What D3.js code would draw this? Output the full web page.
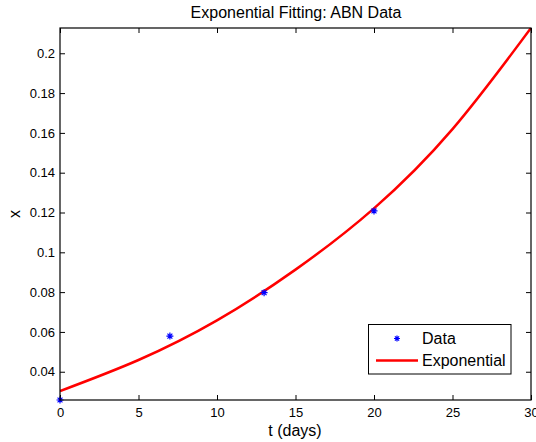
<!DOCTYPE html>
<html>
<head>
<meta charset="utf-8">
<script src="https://cdn.jsdelivr.net/npm/d3@7"></script>
<style>
body { margin: 0; background: #fff; }
text { font-family: "Liberation Sans", Arial, sans-serif; fill: #000; }
</style>
</head>
<body>
<svg id="chart"></svg>
<script>
// Measured data points
var dataT = [0, 7, 13, 20];
var dataX = [0.0258, 0.0579, 0.0797, 0.1208];

// Fitted curve
var fitT = [0, 5, 10, 15, 20, 25, 30];
var fitX = [0.0303, 0.0459, 0.0658, 0.0913, 0.1221, 0.1619, 0.2127];

var xTicks = [0, 5, 10, 15, 20, 25, 30];
var yTicks = [0.04, 0.06, 0.08, 0.1, 0.12, 0.14, 0.16, 0.18, 0.2];

var W = 536, H = 442;
var m = {left: 60, right: 5, top: 28, bottom: 42};

var svg = d3.select('#chart').attr('width', W).attr('height', H);

var x = d3.scaleLinear().domain([0, 30]).range([m.left, W - m.right]);
var y = d3.scaleLinear().domain([0.0258, 0.2127]).range([H - m.bottom, m.top]);

// axes, ticks pointing inward like matlab
function styleAxis(g){
    g.select('.domain').remove();
    g.selectAll('line').attr('stroke', '#000');
    g.selectAll('text').style('font-size', '13px');
}
svg.append('g').attr('transform', 'translate(0,' + (H - m.bottom) + ')')
    .call(d3.axisBottom(x).tickValues(xTicks).tickSizeInner(-5).tickPadding(8).tickFormat(d3.format('d')))
    .call(styleAxis);
svg.append('g').attr('transform', 'translate(0,' + m.top + ')')
    .call(d3.axisTop(x).tickValues(xTicks).tickSizeInner(-5).tickFormat(''))
    .call(styleAxis);
svg.append('g').attr('transform', 'translate(' + m.left + ',0)')
    .call(d3.axisLeft(y).tickValues(yTicks).tickSizeInner(-5).tickPadding(5).tickFormat(function(d){ return String(+d.toFixed(2)); }))
    .call(styleAxis);
svg.append('g').attr('transform', 'translate(' + (W - m.right) + ',0)')
    .call(d3.axisRight(y).tickValues(yTicks).tickSizeInner(-5).tickFormat(''))
    .call(styleAxis);

// clip for the curve
svg.append('clipPath').attr('id', 'clip').append('rect')
    .attr('x', m.left).attr('y', m.top)
    .attr('width', W - m.left - m.right).attr('height', H - m.top - m.bottom);

var line = d3.line()
    .x(function(d, i){ return x(fitT[i]); })
    .y(function(d){ return y(d); })
    .curve(d3.curveNatural);

svg.append('path').datum(fitX)
    .attr('d', line)
    .attr('fill', 'none')
    .attr('stroke', '#ff0000')
    .attr('stroke-width', 2.5)
    .attr('clip-path', 'url(#clip)');

// asterisk marker
function star(g, cx, cy, r){
    var d = 'M' + (cx - r) + ',' + cy + 'H' + (cx + r) +
            'M' + cx + ',' + (cy - r) + 'V' + (cy + r) +
            'M' + (cx - r * 0.7) + ',' + (cy - r * 0.7) + 'L' + (cx + r * 0.7) + ',' + (cy + r * 0.7) +
            'M' + (cx - r * 0.7) + ',' + (cy + r * 0.7) + 'L' + (cx + r * 0.7) + ',' + (cy - r * 0.7);
    g.append('path').attr('d', d).attr('stroke', '#0000ff').attr('stroke-width', 1.2).attr('fill', 'none');
}
var pts = svg.append('g');
dataT.forEach(function(t, i){ star(pts, x(t), y(dataX[i]), 3.5); });

// box
svg.append('rect')
    .attr('x', m.left).attr('y', m.top)
    .attr('width', W - m.left - m.right).attr('height', H - m.top - m.bottom)
    .attr('fill', 'none').attr('stroke', '#000').attr('stroke-width', 1.2);

// title and labels
svg.append('text').attr('x', 296).attr('y', 18).attr('text-anchor', 'middle')
    .style('font-size', '16px').text('Exponential Fitting: ABN Data');
svg.append('text').attr('x', 295).attr('y', 436).attr('text-anchor', 'middle')
    .style('font-size', '16px').text('t (days)');
svg.append('text').attr('transform', 'translate(20,214) rotate(-90)').attr('text-anchor', 'middle')
    .style('font-size', '16px').text('x');

// legend
var lg = svg.append('g');
lg.append('rect').attr('x', 368.5).attr('y', 324.5).attr('width', 142.5).attr('height', 49.5)
    .attr('fill', '#fff').attr('stroke', '#000').attr('stroke-width', 1);
star(lg, 397, 338.5, 3);
lg.append('text').attr('x', 422).attr('y', 344).style('font-size', '16px').text('Data');
lg.append('line').attr('x1', 376).attr('x2', 418).attr('y1', 360.5).attr('y2', 360.5)
    .attr('stroke', '#ff0000').attr('stroke-width', 2.5);
lg.append('text').attr('x', 422).attr('y', 366).style('font-size', '16px').text('Exponential');
</script>
</body>
</html>
